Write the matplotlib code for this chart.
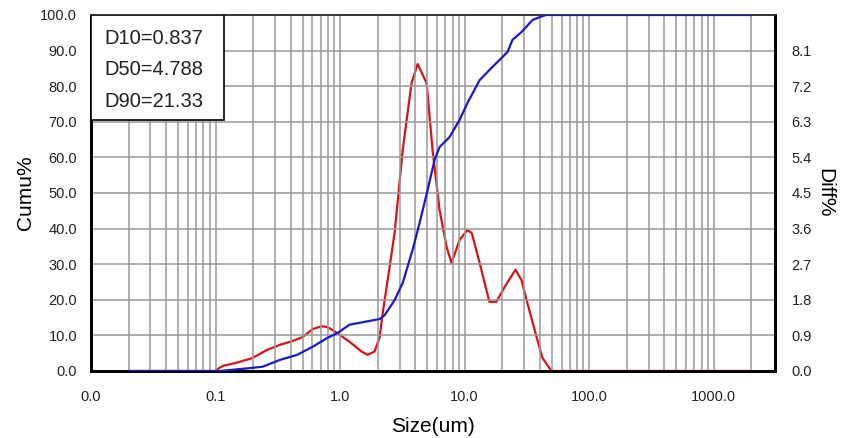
import matplotlib
matplotlib.use('Agg')
import matplotlib.pyplot as plt
from matplotlib.patches import Rectangle

plt.rcParams['font.family'] = ['Liberation Sans', 'DejaVu Sans']

# cumulative distribution (Cumu%)
cumu_size = [0.02, 0.05, 0.108, 0.188, 0.239, 0.328, 0.449, 0.603, 0.781, 0.957,
             1.19, 1.63, 2.08, 2.28, 2.74, 3.18, 3.82, 4.35, 5.04, 5.74, 6.29,
             7.56, 9.1, 10.55, 13.2, 16.7, 18.0, 22.1, 24.2, 28.6, 35.1, 42.2,
             45.4, 100.0, 1000.0, 2000.0]
cumu_pct = [0.0, 0.0, 0.0, 0.8, 1.2, 3.1, 4.5, 6.8, 9.2, 10.7,
            13.0, 13.9, 14.6, 15.7, 19.9, 24.7, 34.0, 41.6, 50.8, 59.3, 62.9,
            65.7, 70.5, 75.3, 81.7, 85.4, 86.5, 89.6, 93.0, 95.2, 98.6, 99.7,
            100.0, 100.0, 100.0, 100.0]

# differential distribution (Diff%)
diff_size = [0.02, 0.05, 0.1, 0.104, 0.115, 0.148, 0.195, 0.258, 0.328, 0.417,
             0.501, 0.603, 0.711, 0.795, 0.957, 1.19, 1.49, 1.66, 1.89, 2.08,
             2.20, 2.41, 2.74, 3.18, 3.75, 4.19, 4.95, 5.53, 6.29, 7.17, 7.85,
             9.10, 10.5, 11.4, 13.2, 15.8, 18.0, 20.9, 25.6, 28.6, 31.9, 37.8,
             42.2, 48.0, 50.7, 100.0, 1000.0, 2000.0]
diff_pct = [0.0, 0.0, 0.0, 0.05, 0.13, 0.21, 0.32, 0.53, 0.66, 0.76,
            0.86, 1.06, 1.13, 1.11, 0.95, 0.74, 0.49, 0.41, 0.49, 0.86,
            1.47, 2.30, 3.49, 5.58, 7.28, 7.76, 7.28, 5.58, 4.07, 3.13, 2.73,
            3.31, 3.56, 3.49, 2.73, 1.75, 1.75, 2.12, 2.56, 2.30, 1.72, 0.86,
            0.33, 0.07, 0.0, 0.0, 0.0, 0.0]

x_ticks = [0.01, 0.1, 1, 10, 100, 1000]
x_tick_labels = ['0.0', '0.1', '1.0', '10.0', '100.0', '1000.0']
left_ticks = [0, 10, 20, 30, 40, 50, 60, 70, 80, 90, 100]
right_ticks = [0.0, 0.9, 1.8, 2.7, 3.6, 4.5, 5.4, 6.3, 7.2, 8.1]
d_values = ['D10=0.837', 'D50=4.788', 'D90=21.33']

fig = plt.figure(figsize=(8.57, 4.38), dpi=100)
ax = fig.add_axes([0.1062, 0.153, 0.798, 0.8128])
ax2 = ax.twinx()

# grid on every minor decade step
grid_x = []
for dec in [0.01, 0.1, 1, 10, 100, 1000]:
    for k in range(1, 10):
        v = dec * k
        if 0.01 < v <= 2000:
            grid_x.append(v)
for v in grid_x:
    ax.axvline(v, color='#999999', lw=1.1, zorder=1)
for v in left_ticks[1:-1]:
    ax.axhline(v, color='#999999', lw=1.1, zorder=1)

ax.set_xscale('log')
ax.set_xlim(0.01, 3100)
ax.set_ylim(0, 100)
ax2.set_ylim(0, 9)

ax2.plot(diff_size, diff_pct, color='#dd1111', lw=1.6, zorder=3)
ax.set_zorder(ax2.get_zorder() + 1)
ax.patch.set_visible(False)
ax.plot(cumu_size, cumu_pct, color='#1a1acc', lw=1.6, zorder=4)

ax.set_xticks(x_ticks)
ax.set_xticklabels(x_tick_labels)
ax.xaxis.set_minor_locator(matplotlib.ticker.NullLocator())
ax.set_yticks(left_ticks)
ax.set_yticklabels([f'{v:.1f}' for v in left_ticks])
ax2.set_yticks(right_ticks)
ax2.set_yticklabels([f'{v:.1f}' for v in right_ticks])

for a in (ax, ax2):
    a.tick_params(length=0, labelsize=10.5, colors='#222222')
ax.tick_params(axis='x', pad=14)
ax.tick_params(axis='y', pad=10)
ax2.tick_params(axis='y', pad=12)

for a in (ax, ax2):
    for s in ['left', 'bottom', 'right']:
        a.spines[s].set_color('black')
        a.spines[s].set_linewidth(2)
    a.spines['top'].set_color('#333333')
    a.spines['top'].set_linewidth(1.2)

ax.set_xlabel('Size(um)', fontsize=15, labelpad=9)
ax.set_ylabel('Cumu%', fontsize=15, labelpad=4)
ax2.set_ylabel('Diff%', fontsize=15, rotation=-90, labelpad=16)

# D values box
ax.add_patch(Rectangle((0, 0.705), 0.194, 0.295, transform=ax.transAxes,
                       facecolor='white', edgecolor='black', lw=1.2, zorder=5))
for txt, yy in zip(d_values, [0.935, 0.846, 0.758]):
    ax.text(0.019, yy, txt, transform=ax.transAxes, fontsize=14.5,
            va='center', ha='left', color='#222222', zorder=6)

fig.savefig('out.png', dpi=100)
